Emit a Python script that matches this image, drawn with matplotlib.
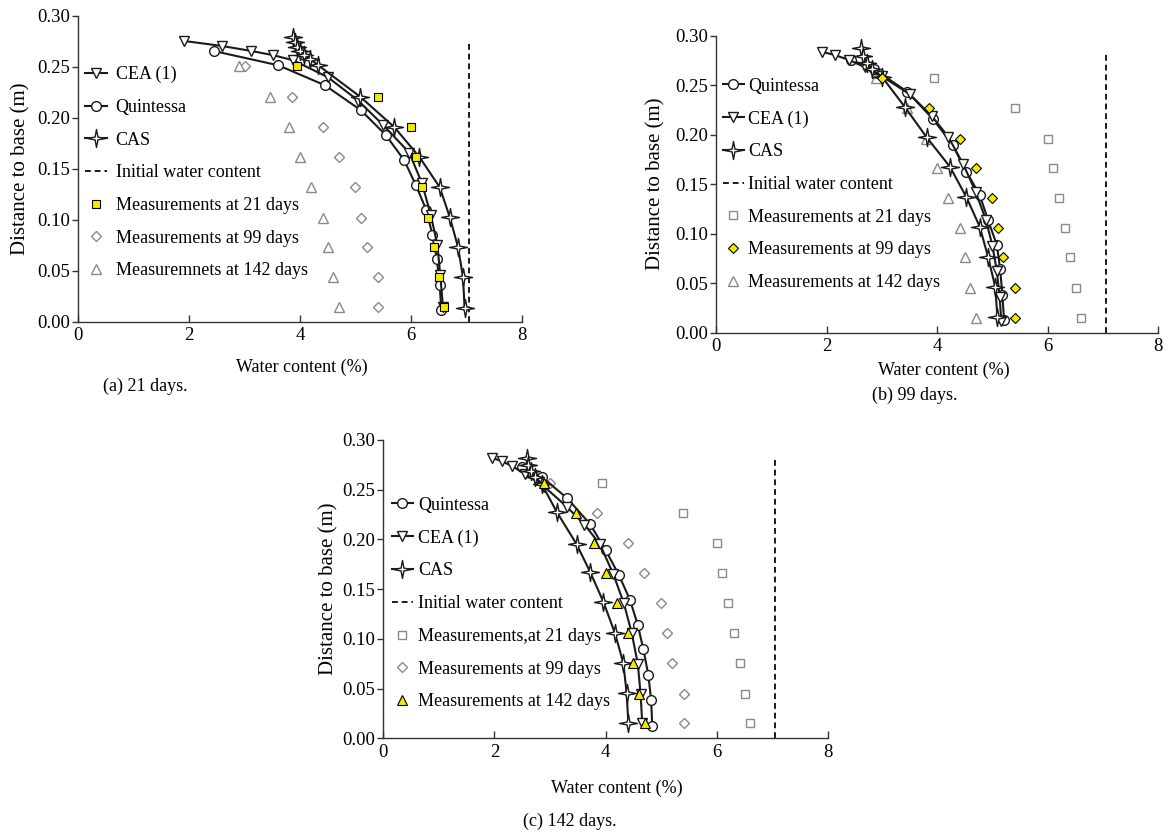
import numpy as np
import matplotlib
matplotlib.use('Agg')
import matplotlib.pyplot as plt
from matplotlib.path import Path

plt.rcParams['font.family'] = ['Liberation Serif', 'DejaVu Serif']
plt.rcParams['font.size'] = 13

# ---------------- data ----------------
x_ticks = [0, 2, 4, 6, 8]
y_ticks = [0.00, 0.05, 0.10, 0.15, 0.20, 0.25, 0.30]
initial_wc = 7.05
initial_top_a = 0.275
initial_top_bc = 0.283

meas_h_a = [0.251, 0.221, 0.191, 0.162, 0.132, 0.102, 0.073, 0.044, 0.014]
meas_h_bc = [0.257, 0.227, 0.196, 0.166, 0.136, 0.106, 0.076, 0.045, 0.015]
meas_21 = [3.94, 5.40, 6.00, 6.10, 6.20, 6.31, 6.41, 6.51, 6.60]
meas_99 = [3.00, 3.85, 4.41, 4.70, 5.00, 5.10, 5.20, 5.41, 5.41]
meas_142 = [2.90, 3.46, 3.80, 4.00, 4.20, 4.41, 4.50, 4.60, 4.71]

# panel (a) 21 days
quin_a_x = [2.44, 3.61, 4.45, 5.10, 5.55, 5.88, 6.09, 6.28, 6.39, 6.47, 6.52, 6.55]
quin_a_y = [0.2657, 0.2516, 0.2320, 0.2075, 0.1830, 0.1585, 0.1340, 0.1095, 0.0850, 0.0611, 0.0359, 0.0114]
cea_a_x = [1.91, 2.59, 3.12, 3.52, 3.88, 4.50, 5.05, 5.50, 5.97, 6.20, 6.36, 6.48, 6.53, 6.58]
cea_a_y = [0.2755, 0.2706, 0.2657, 0.2615, 0.2565, 0.2400, 0.2170, 0.1930, 0.1660, 0.1360, 0.1046, 0.0750, 0.0458, 0.0147]
cas_a_x = [3.88, 3.91, 3.95, 4.00, 4.08, 4.18, 4.33, 5.09, 5.70, 6.15, 6.52, 6.70, 6.85, 6.94, 6.97]
cas_a_y = [0.2795, 0.2745, 0.2700, 0.2660, 0.2620, 0.2580, 0.2516, 0.2206, 0.1910, 0.1620, 0.1320, 0.1030, 0.0735, 0.0440, 0.0130]

# panel (b) 99 days
quin_b_x = [2.45, 2.85, 3.46, 3.93, 4.28, 4.53, 4.77, 4.92, 5.08, 5.14, 5.18, 5.21]
quin_b_y = [0.2755, 0.2665, 0.2434, 0.2155, 0.1896, 0.1626, 0.1391, 0.1138, 0.0886, 0.0640, 0.0381, 0.0128]
cea_b_x = [1.91, 2.15, 2.41, 2.70, 3.00, 3.50, 3.90, 4.20, 4.47, 4.70, 4.88, 5.00, 5.08, 5.13, 5.16]
cea_b_y = [0.2838, 0.2805, 0.2754, 0.2680, 0.2590, 0.2410, 0.2190, 0.1980, 0.1703, 0.1420, 0.1140, 0.0880, 0.0620, 0.0360, 0.0120]
cas_b_x = [2.62, 2.66, 2.73, 2.82, 3.00, 3.42, 3.81, 4.23, 4.53, 4.77, 4.92, 5.05, 5.09]
cas_b_y = [0.2873, 0.2790, 0.2721, 0.2660, 0.2586, 0.2277, 0.1974, 0.1677, 0.1368, 0.1071, 0.0768, 0.0465, 0.0162]

# panel (c) 142 days
quin_c_x = [2.50, 2.85, 3.31, 3.72, 4.00, 4.24, 4.44, 4.58, 4.68, 4.77, 4.82, 4.84]
quin_c_y = [0.2730, 0.2630, 0.2414, 0.2155, 0.1894, 0.1642, 0.1391, 0.1140, 0.0895, 0.0637, 0.0385, 0.0124]
cea_c_x = [1.95, 2.13, 2.31, 2.55, 2.90, 3.30, 3.62, 3.90, 4.14, 4.33, 4.47, 4.58, 4.63, 4.66]
cea_c_y = [0.2822, 0.2788, 0.2740, 0.2660, 0.2530, 0.2330, 0.2150, 0.1950, 0.1650, 0.1357, 0.1060, 0.0750, 0.0450, 0.0150]
cas_c_x = [2.58, 2.61, 2.66, 2.73, 2.85, 3.12, 3.48, 3.72, 3.96, 4.17, 4.32, 4.38, 4.41]
cas_c_y = [0.2816, 0.2750, 0.2690, 0.2630, 0.2560, 0.2279, 0.1951, 0.1676, 0.1374, 0.1056, 0.0755, 0.0453, 0.0151]

labels_a = ['CEA (1)', 'Quintessa', 'CAS', 'Initial water content',
            'Measurements at 21 days', 'Measurements at 99 days', 'Measuremnets at 142 days']
labels_b = ['Quintessa', 'CEA (1)', 'CAS', 'Initial water content',
            'Measurements at 21 days', 'Measurements at 99 days', 'Measurements at 142 days']
labels_c = ['Quintessa', 'CEA (1)', 'CAS', 'Initial water content',
            'Measurements,at 21 days', 'Measurements at 99 days', 'Measurements at 142 days']

# ---------------- styling ----------------
W, H = 1168, 832
YELLOW = '#f4ea00'
GREY = '#8a8a8a'
LINE = '#1a1a1a'

# 4-pointed star marker
_ang = np.pi / 2 + np.arange(8) * np.pi / 4
_rad = np.where(np.arange(8) % 2 == 0, 1.0, 0.22)
_verts = np.column_stack([_rad * np.cos(_ang), _rad * np.sin(_ang)])
STAR = Path(np.vstack([_verts, _verts[:1]]),
            [Path.MOVETO] + [Path.LINETO] * 7 + [Path.CLOSEPOLY])

model_style = {
    'Quintessa': dict(marker='o', ms=7.0, mfc='white', mec=LINE, mew=1.0),
    'CEA (1)': dict(marker='v', ms=6.5, mfc='white', mec=LINE, mew=1.0),
    'CAS': dict(marker=STAR, ms=13, mfc='white', mec=LINE, mew=1.0),
}
meas_marker = {21: ('s', 5.4), 99: ('D', 5.2), 142: ('^', 6.5)}


def px_rect(left, right, top, bottom):
    return [left / W, 1 - bottom / H, (right - left) / W, (bottom - top) / H]


def draw_panel(rect, model_data, meas_h, highlight, init_top, labels,
               leg_anchor, handletextpad, ylab_x, xlab_xy, caption, cap_xy):
    ax = fig.add_axes(rect)
    handles = {}
    for name, (xs, ys) in model_data.items():
        ln, = ax.plot(xs, ys, color=LINE, lw=1.5, clip_on=False, zorder=3,
                      **model_style[name])
        handles[name] = ln
    dl, = ax.plot([initial_wc, initial_wc], [0, init_top], color=LINE, lw=1.4,
                  linestyle=(0, (3, 2)), zorder=2)
    handles['Initial water content'] = dl
    for days, vals in [(21, meas_21), (99, meas_99), (142, meas_142)]:
        mk, ms = meas_marker[days]
        if days == highlight:
            st = dict(mfc=YELLOW, mec='black', mew=0.8, zorder=5)
        else:
            st = dict(mfc='white', mec=GREY, mew=1.0, zorder=1)
        sc, = ax.plot(vals, meas_h, linestyle='none', marker=mk, ms=ms,
                      clip_on=False, **st)
        handles[days] = sc

    ax.set_xlim(0, 8)
    ax.set_ylim(0, 0.30)
    ax.set_xticks(x_ticks)
    ax.set_yticks(y_ticks)
    ax.set_yticklabels([f'{v:.2f}' for v in y_ticks])
    for s in ['top', 'right']:
        ax.spines[s].set_visible(False)
    for s in ['left', 'bottom']:
        ax.spines[s].set_color('#333333')
        ax.spines[s].set_linewidth(1.0)
    ax.tick_params(axis='x', direction='in', length=5, width=1.0,
                   color='#333333', labelsize=13.5, pad=4)
    ax.tick_params(axis='y', direction='out', length=4, width=1.0,
                   color='#333333', labelsize=13.5, pad=2)

    keys = []
    for lab in labels:
        if lab.startswith('Quint'):
            keys.append('Quintessa')
        elif lab.startswith('CEA'):
            keys.append('CEA (1)')
        elif lab == 'CAS':
            keys.append('CAS')
        elif lab.startswith('Initial'):
            keys.append('Initial water content')
        elif '21' in lab:
            keys.append(21)
        elif '99' in lab:
            keys.append(99)
        else:
            keys.append(142)
    ax.legend([handles[k] for k in keys], labels, loc='upper left',
              bbox_to_anchor=leg_anchor, frameon=False, borderpad=0,
              borderaxespad=0, handlelength=1.2, handletextpad=handletextpad,
              labelspacing=0.87, numpoints=1, fontsize=13)

    fig.text(ylab_x / W, rect[1] + rect[3] / 2, 'Distance to base (m)',
             rotation=90, ha='center', va='center', fontsize=15)
    fig.text(xlab_xy[0] / W, 1 - xlab_xy[1] / H, 'Water content (%)',
             ha='center', va='center', fontsize=13)
    fig.text(cap_xy[0] / W, 1 - cap_xy[1] / H, caption,
             ha='center', va='center', fontsize=13)
    return ax


fig = plt.figure(figsize=(W / 100, H / 100), dpi=100)

draw_panel(px_rect(78.3, 521.7, 16.0, 321.7),
           {'Quintessa': (quin_a_x, quin_a_y), 'CEA (1)': (cea_a_x, cea_a_y),
            'CAS': (cas_a_x, cas_a_y)},
           meas_h_a, 21, initial_top_a, labels_a,
           (0.015, 0.837), 0.5, 21, (302, 367), '(a) 21 days.', (145, 386))

draw_panel(px_rect(716.0, 1158.3, 35.7, 332.7),
           {'Quintessa': (quin_b_x, quin_b_y), 'CEA (1)': (cea_b_x, cea_b_y),
            'CAS': (cas_b_x, cas_b_y)},
           meas_h_bc, 99, initial_top_bc, labels_b,
           (0.015, 0.859), 0.2, 656, (944, 370), '(b) 99 days.', (915, 395))

draw_panel(px_rect(383.2, 827.9, 440.0, 738.3),
           {'Quintessa': (quin_c_x, quin_c_y), 'CEA (1)': (cea_c_x, cea_c_y),
            'CAS': (cas_c_x, cas_c_y)},
           meas_h_bc, 142, initial_top_bc, labels_c,
           (0.019, 0.81), 0.28, 329, (617, 788), '(c) 142 days.', (570, 821))

fig.savefig('out.png', dpi=100)
